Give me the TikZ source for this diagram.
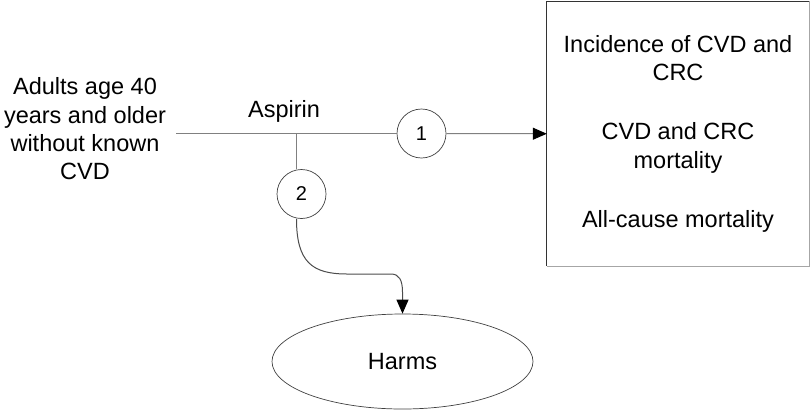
\documentclass[tikz,border=0pt]{standalone}
\usepackage{fontspec}
\setmainfont{Liberation Sans}
\usetikzlibrary{arrows.meta,shapes.geometric}
\begin{document}
\begin{tikzpicture}[x=1pt,y=-1pt,
  txt/.style={font=\fontsize{23.5}{28.3}\selectfont, align=center, inner sep=0pt},
  conn/.style={draw=black!50, line width=1pt},
  tip/.style={-{Triangle[length=14pt,width=12pt,color=black]}},
  kq/.style={circle, draw=black!75, line width=0.7pt, fill=white, minimum size=49pt, inner sep=0pt, font=\fontsize{20}{24}\selectfont}]
\useasboundingbox (0,0) rectangle (810,413);
% nodes
\node[txt] (pop) at (85,129) {Adults age 40\\years and older\\without known\\CVD};
\node[txt, anchor=base] (asp) at (284,117) {Aspirin};
\node[txt, minimum width=262pt, minimum height=264.5pt] (box) at (678,133.75)
  {Incidence of CVD and\\CRC\\[31pt]CVD and CRC\\mortality\\[31pt]All-cause mortality};
\draw[black!80, line width=1pt] (box.south west) -- (box.north west) -- (box.north east);
\draw[black!35, line width=1pt] (box.north east) -- (box.south east) -- (box.south west);
\node[kq] (c1) at (421.5,133.5) {1};
\node[kq] (c2) at (301.5,194) {2};
\node[ellipse, draw=black!75, line width=0.7pt, minimum width=261pt, minimum height=95pt, inner sep=0pt,
  font=\fontsize{23.5}{28}\selectfont] (harms) at (402.5,361.5) {Harms};
% coordinates
\coordinate (start) at (176,133.5);
\coordinate (j) at (296.5,133.5);
\coordinate (bend1) at (347,274);
\coordinate (bend2) at (391,274);
\coordinate (down) at (402.5,292);
% connectors
\draw[conn] (start) -- (c1.west);
\draw[conn, tip] (c1.east) -- (box.west);
\draw[conn] (j) -- (j |- c2.north);
\draw[conn, black!70, tip] (c2.south -| j) .. controls (296.5,262) and (312,274) .. (bend1) -- (bend2)
  .. controls (399,274) and (402.5,280) .. (down) -- (harms.north);
\end{tikzpicture}
\end{document}
